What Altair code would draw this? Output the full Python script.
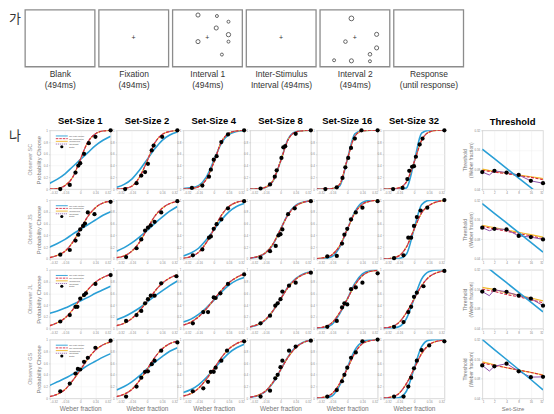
import altair as alt
import pandas as pd

FONT = 'Liberation Sans'
KFONT = 'Noto Sans CJK KR'

# ---------------- panel 가 : trial sequence ----------------
STAGE_LABELS = [["Blank", "(494ms)"], ["Fixation", "(494ms)"], ["Interval 1", "(494ms)"],
                ["Inter-Stimulus", "Interval (494ms)"], ["Interval 2", "(494ms)"],
                ["Response", "(until response)"]]
# stimulus rings inside a 70 x 57 display frame (x right, y down)
INT1_X = [25.7, 44.7, 56.3, 44.0, 56.3, 56.3, 25.7, 49.7]
INT1_Y = [5.3, 6.3, 12.0, 18.3, 25.0, 32.0, 32.0, 45.0]
INT1_S = [17, 9, 9, 17, 19, 9, 17, 9]
INT2_X = [31.7, 25.7, 57.0, 57.0, 50.3, 50.3, 31.7, 14.3]
INT2_Y = [8.7, 32.0, 24.7, 38.3, 44.7, 51.7, 51.3, 50.7]
INT2_S = [23, 13, 17, 17, 13, 9, 17, 9]
FIX_PANELS = [1, 2, 3, 4]
FIX_X = 35
FIX_Y = 28

# ---------------- panel 나 : psychometric functions ----------------
OBSERVERS = ['SC', 'JS', 'JL', 'GS']
SET_SIZES = [1, 2, 4, 8, 16, 32]
XGRID = [-0.32, -0.24, -0.16, -0.08, 0.0, 0.08, 0.16, 0.24, 0.32]
X_TICKS = [-0.32, -0.16, 0, 0.16, 0.32]
Y_TICKS = [0, 0.2, 0.4, 0.6, 0.8, 1]
LEGEND = ['No Late Noise', 'No Glimpsing', 'Combined', 'Spotlight', 'Data']

# fitted curves (No Glimpsing / Combined / Spotlight overlap) at XGRID
FIT_SC = [[0.0, 0.01, 0.06, 0.2, 0.5, 0.8, 0.94, 0.99, 1.0],
          [0.0, 0.01, 0.05, 0.2, 0.47, 0.78, 0.93, 0.98, 1.0],
          [0.0, 0.01, 0.04, 0.16, 0.45, 0.8, 0.95, 0.99, 1.0],
          [0.0, 0.005, 0.03, 0.14, 0.47, 0.84, 0.97, 0.995, 1.0],
          [0.0, 0.0, 0.01, 0.08, 0.5, 0.9, 0.99, 1.0, 1.0],
          [0.0, 0.003, 0.02, 0.12, 0.45, 0.83, 0.97, 1.0, 1.0]]
FIT_JS = [[0.02, 0.06, 0.13, 0.28, 0.5, 0.72, 0.87, 0.95, 0.98],
          [0.02, 0.05, 0.13, 0.28, 0.5, 0.72, 0.86, 0.94, 0.98],
          [0.01, 0.04, 0.11, 0.27, 0.5, 0.74, 0.89, 0.96, 0.985],
          [0.01, 0.04, 0.1, 0.25, 0.5, 0.75, 0.9, 0.96, 0.99],
          [0.005, 0.02, 0.07, 0.22, 0.5, 0.78, 0.93, 0.98, 1.0],
          [0.0, 0.01, 0.05, 0.2, 0.5, 0.78, 0.91, 0.97, 0.99]]
FIT_JL = [[0.05, 0.1, 0.18, 0.32, 0.5, 0.66, 0.79, 0.87, 0.92],
          [0.05, 0.09, 0.17, 0.3, 0.46, 0.63, 0.77, 0.86, 0.92],
          [0.06, 0.11, 0.2, 0.33, 0.49, 0.65, 0.78, 0.87, 0.93],
          [0.03, 0.07, 0.15, 0.3, 0.5, 0.7, 0.84, 0.92, 0.96],
          [0.01, 0.03, 0.1, 0.27, 0.5, 0.74, 0.9, 0.97, 0.99],
          [0.01, 0.03, 0.1, 0.27, 0.5, 0.73, 0.88, 0.95, 0.98]]
FIT_GS = [[0.03, 0.07, 0.15, 0.3, 0.48, 0.67, 0.82, 0.91, 0.96],
          [0.03, 0.07, 0.15, 0.3, 0.49, 0.69, 0.84, 0.93, 0.97],
          [0.04, 0.08, 0.17, 0.32, 0.5, 0.69, 0.84, 0.93, 0.98],
          [0.02, 0.05, 0.12, 0.27, 0.48, 0.7, 0.86, 0.95, 0.99],
          [0.005, 0.02, 0.08, 0.25, 0.5, 0.77, 0.93, 0.98, 1.0],
          [0.005, 0.02, 0.08, 0.25, 0.5, 0.76, 0.91, 0.97, 0.99]]
# No Late Noise model at XGRID
NLN_SC = [[0.1, 0.17, 0.26, 0.38, 0.5, 0.62, 0.74, 0.83, 0.9],
          [0.03, 0.08, 0.17, 0.32, 0.5, 0.68, 0.83, 0.92, 0.97],
          [0.01, 0.02, 0.06, 0.2, 0.48, 0.78, 0.93, 0.98, 0.995],
          [0.0, 0.003, 0.025, 0.13, 0.47, 0.85, 0.975, 0.997, 1.0],
          [0.0, 0.0, 0.005, 0.05, 0.5, 0.94, 0.995, 1.0, 1.0],
          [0.0, 0.0, 0.0, 0.02, 0.45, 0.95, 1.0, 1.0, 1.0]]
NLN_JS = [[0.2, 0.26, 0.33, 0.42, 0.5, 0.58, 0.66, 0.74, 0.8],
          [0.13, 0.19, 0.27, 0.37, 0.48, 0.6, 0.71, 0.81, 0.89],
          [0.05, 0.1, 0.18, 0.32, 0.49, 0.66, 0.8, 0.89, 0.94],
          [0.01, 0.035, 0.095, 0.24, 0.5, 0.76, 0.91, 0.965, 0.99],
          [0.0, 0.005, 0.04, 0.2, 0.5, 0.8, 0.96, 0.995, 1.0],
          [0.0, 0.0, 0.005, 0.08, 0.5, 0.92, 0.995, 1.0, 1.0]]
NLN_JL = [[0.26, 0.3, 0.35, 0.41, 0.47, 0.53, 0.6, 0.66, 0.72],
          [0.15, 0.2, 0.27, 0.35, 0.45, 0.55, 0.64, 0.73, 0.81],
          [0.11, 0.16, 0.24, 0.35, 0.48, 0.62, 0.74, 0.82, 0.87],
          [0.025, 0.065, 0.145, 0.3, 0.5, 0.71, 0.85, 0.93, 0.965],
          [0.003, 0.015, 0.07, 0.25, 0.5, 0.77, 0.93, 0.985, 0.998],
          [0.0, 0.003, 0.03, 0.17, 0.5, 0.84, 0.97, 0.997, 1.0]]
NLN_GS = [[0.22, 0.28, 0.34, 0.41, 0.48, 0.56, 0.63, 0.7, 0.76],
          [0.14, 0.2, 0.28, 0.38, 0.5, 0.61, 0.71, 0.8, 0.86],
          [0.1, 0.15, 0.23, 0.35, 0.49, 0.64, 0.77, 0.86, 0.92],
          [0.015, 0.045, 0.115, 0.26, 0.48, 0.71, 0.87, 0.955, 0.99],
          [0.0, 0.005, 0.04, 0.22, 0.52, 0.82, 0.96, 0.995, 1.0],
          [0.0, 0.0, 0.01, 0.12, 0.5, 0.88, 0.99, 1.0, 1.0]]
# observed proportions
DOTX_SC = [[-0.21, -0.11, -0.05, -0.02, 0.0, 0.04, 0.09, 0.16, 0.32],
           [-0.23, -0.11, -0.06, -0.02, 0.01, 0.05, 0.07, 0.16, 0.32],
           [-0.23, -0.12, -0.05, -0.03, 0.0, 0.03, 0.08, 0.15, 0.32],
           [-0.21, -0.11, -0.06, -0.04, 0.01, 0.03, 0.05, 0.16, 0.32],
           [-0.23, -0.11, -0.05, -0.02, 0.01, 0.04, 0.08, 0.15, 0.32],
           [-0.22, -0.12, -0.07, -0.05, -0.02, 0.0, 0.02, 0.06, 0.09, 0.32]]
DOTP_SC = [[0.0, 0.07, 0.28, 0.40, 0.44, 0.60, 0.78, 0.89, 1.0],
           [0.0, 0.1, 0.23, 0.29, 0.43, 0.66, 0.74, 0.89, 1.0],
           [0.02, 0.06, 0.21, 0.33, 0.5, 0.56, 0.8, 0.93, 1.0],
           [0.01, 0.08, 0.21, 0.32, 0.53, 0.71, 0.73, 0.94, 1.0],
           [0.0, 0.03, 0.19, 0.37, 0.53, 0.70, 0.86, 1.0, 1.0],
           [0.0, 0.02, 0.17, 0.31, 0.38, 0.39, 0.55, 0.76, 0.86, 1.0]]
DOTX_JS = [[-0.21, -0.11, -0.05, -0.02, 0.0, 0.03, 0.05, 0.08, 0.15, 0.32],
           [-0.22, -0.11, -0.06, -0.02, 0.01, 0.04, 0.08, 0.15, 0.32],
           [-0.22, -0.12, -0.05, -0.03, 0.0, 0.03, 0.08, 0.15, 0.32],
           [-0.21, -0.11, -0.05, -0.02, 0.0, 0.02, 0.08, 0.15, 0.32],
           [-0.21, -0.11, -0.055, -0.03, 0.0, 0.04, 0.09, 0.16, 0.32],
           [-0.21, -0.11, -0.06, -0.03, 0.0, 0.03, 0.07, 0.14, 0.32]]
DOTP_JS = [[0.07, 0.15, 0.31, 0.41, 0.5, 0.56, 0.6, 0.79, 0.76, 0.97],
           [0.03, 0.18, 0.33, 0.48, 0.53, 0.57, 0.63, 0.79, 0.98],
           [0.06, 0.16, 0.36, 0.38, 0.51, 0.59, 0.67, 0.86, 0.98],
           [0.02, 0.13, 0.22, 0.4, 0.42, 0.5, 0.76, 0.86, 0.98],
           [0.04, 0.05, 0.26, 0.41, 0.51, 0.67, 0.79, 0.87, 0.98],
           [0.01, 0.06, 0.36, 0.36, 0.56, 0.71, 0.82, 0.87, 1.0]]
DOTX_JL = [[-0.21, -0.11, -0.05, -0.03, 0.0, 0.04, 0.06, 0.16, 0.32],
           [-0.22, -0.11, -0.06, -0.02, 0.01, 0.04, 0.08, 0.15, 0.31],
           [-0.22, -0.11, -0.06, 0.0, 0.02, 0.07, 0.15, 0.32],
           [-0.21, -0.11, -0.055, -0.03, 0.0, 0.02, 0.09, 0.16, 0.32],
           [-0.21, -0.11, -0.055, -0.03, 0.0, 0.04, 0.09, 0.16, 0.32],
           [-0.21, -0.11, -0.06, -0.03, 0.0, 0.03, 0.1, 0.32]]
DOTP_JL = [[0.12, 0.23, 0.37, 0.37, 0.51, 0.57, 0.6, 0.76, 0.91],
           [0.13, 0.23, 0.3, 0.43, 0.5, 0.56, 0.56, 0.77, 0.89],
           [0.09, 0.28, 0.28, 0.53, 0.52, 0.6, 0.76, 0.92],
           [0.09, 0.22, 0.39, 0.43, 0.5, 0.63, 0.73, 0.78, 0.95],
           [0.03, 0.13, 0.36, 0.43, 0.41, 0.67, 0.7, 0.78, 0.94],
           [0.03, 0.11, 0.28, 0.37, 0.54, 0.61, 0.72, 0.98]]
DOTX_GS = [[-0.21, -0.11, -0.05, -0.025, 0.0, 0.04, 0.08, 0.16, 0.32],
           [-0.22, -0.11, -0.06, -0.02, 0.01, 0.05, 0.08, 0.15, 0.32],
           [-0.22, -0.11, -0.06, -0.03, 0.0, 0.02, 0.08, 0.14, 0.32],
           [-0.21, -0.11, -0.055, -0.03, 0.0, 0.02, 0.09, 0.16, 0.32],
           [-0.21, -0.11, -0.055, -0.03, 0.0, 0.04, 0.09, 0.16, 0.32],
           [-0.21, -0.11, -0.06, -0.03, 0.0, 0.03, 0.08, 0.16, 0.32]]
DOTP_GS = [[0.12, 0.25, 0.42, 0.5, 0.49, 0.62, 0.69, 0.86, 0.98],
           [0.03, 0.2, 0.35, 0.45, 0.46, 0.58, 0.64, 0.81, 0.95],
           [0.12, 0.17, 0.28, 0.45, 0.45, 0.52, 0.64, 0.81, 0.97],
           [0.03, 0.13, 0.34, 0.4, 0.53, 0.64, 0.81, 0.88, 0.98],
           [0.03, 0.14, 0.29, 0.4, 0.52, 0.69, 0.78, 0.97, 1.0],
           [0.03, 0.03, 0.2, 0.35, 0.51, 0.64, 0.82, 0.9, 0.97]]

FIT = [FIT_SC, FIT_JS, FIT_JL, FIT_GS]
NLN = [NLN_SC, NLN_JS, NLN_JL, NLN_GS]
DOTX = [DOTX_SC, DOTX_JS, DOTX_JL, DOTX_GS]
DOTP = [DOTP_SC, DOTP_JS, DOTP_JL, DOTP_GS]

# ---------------- thresholds (Weber fraction) ----------------
THR_TICKS = [0.04, 0.08, 0.16, 0.32]
SPOT_X = [1, 1.5, 2, 4, 8, 16, 32]
THR_NLN = [[0.1645, 0.117, 0.0831, 0.0591, 0.042, 0.0299],
           [0.2825, 0.2004, 0.1422, 0.1009, 0.0716, 0.0508],
           [0.403, 0.2855, 0.2025, 0.1437, 0.102, 0.0724],
           [0.32, 0.2247, 0.1578, 0.1108, 0.0778, 0.0541]]
THR_NG = [[0.0778, 0.0731, 0.0687, 0.0645, 0.0606, 0.0558],
          [0.1255, 0.1155, 0.1063, 0.0979, 0.09, 0.0811],
          [0.1611, 0.1482, 0.1336, 0.1229, 0.1108, 0.0999],
          [0.1393, 0.1282, 0.118, 0.1085, 0.0999, 0.09]]
THR_COMB = [[0.0811, 0.0747, 0.0701, 0.0659, 0.0619, 0.0582],
            [0.1309, 0.1204, 0.1108, 0.102, 0.0939, 0.0863],
            [0.1715, 0.1578, 0.1422, 0.1309, 0.118, 0.1063],
            [0.1452, 0.1309, 0.118, 0.1085, 0.0999, 0.0919]]
THR_SPOT = [[0.0731, 0.0659, 0.0763, 0.0716, 0.0659, 0.0535, 0.0492],
            [0.1204, 0.108, 0.1155, 0.1131, 0.09, 0.0863, 0.0795],
            [0.1482, 0.128, 0.1578, 0.1467, 0.1282, 0.1155, 0.09],
            [0.1282, 0.105, 0.1242, 0.1364, 0.1041, 0.0846, 0.0854]]
THR_DATA = [[0.0731, 0.0763, 0.0716, 0.0659, 0.0535, 0.0492],
            [0.1204, 0.1155, 0.1131, 0.09, 0.0863, 0.0795],
            [0.1482, 0.1578, 0.1467, 0.1282, 0.1155, 0.09],
            [0.1282, 0.1242, 0.1364, 0.1041, 0.0846, 0.0854]]

BLUE_C = '#2a9fd6'
RED_C = '#d7263d'
YEL_C = '#f2b829'
PUR_C = '#8b4fa8'

ONE = pd.DataFrame({'k': [0]})
NOFRAME = alt.ViewBackground(stroke='transparent')

# ---------- top row ----------
stim = pd.DataFrame({
    'panel': [2] * len(INT1_X) + [4] * len(INT2_X),
    'x': INT1_X + INT2_X, 'y': INT1_Y + INT2_Y, 's': INT1_S + INT2_S})
fix = pd.DataFrame({'panel': FIX_PANELS, 'x': [FIX_X] * len(FIX_PANELS),
                    'y': [FIX_Y] * len(FIX_PANELS)})


def stage_panel(i):
    X = alt.X('x:Q', scale=alt.Scale(domain=[0, 70], nice=False, zero=False),
              axis=alt.Axis(labels=False, ticks=False, domain=False, grid=False,
                            title=STAGE_LABELS[i], titleFont=FONT, titleFontSize=8.5,
                            titleFontWeight='normal', titleColor='#333333',
                            titlePadding=3, titleLineHeight=11))
    Y = alt.Y('y:Q', scale=alt.Scale(domain=[0, 57], reverse=True, nice=False, zero=False),
              axis=None)
    rings = alt.Chart(stim).transform_filter(alt.datum.panel == i).mark_point(
        shape='circle', filled=False, color='#555555', strokeWidth=0.9, opacity=1
    ).encode(x=X, y=Y, size=alt.Size('s:Q', scale=None, legend=None))
    cross = alt.Chart(fix).transform_filter(alt.datum.panel == i).mark_text(
        text='+', fontSize=7, color='#333333', baseline='middle', font=FONT
    ).encode(x=X, y=Y)
    return alt.layer(rings, cross).properties(
        width=70, height=57, view=alt.ViewBackground(stroke='#8c8c8c', strokeWidth=1.3))


ga = alt.Chart(ONE).mark_text(text='가', font=KFONT, fontSize=13, align='left',
                              baseline='middle', color='#333333').encode(
    x=alt.value(0), y=alt.value(9)).properties(width=12, height=57, view=NOFRAME)

top_row = alt.hconcat(ga, *[stage_panel(i) for i in range(6)], spacing=4, bounds='flush')


# ---------- bottom grid ----------
def axis_kw(**extra):
    kw = dict(labelFont=FONT, labelFontSize=3, labelColor='#888888', labelPadding=1,
              tickSize=1.5, tickColor='#bbbbbb', tickWidth=0.5, domain=False, grid=True,
              gridColor='#eeeeee', gridWidth=0.5, titleFont=FONT, titleFontWeight='normal',
              titleColor='#777777')
    kw.update(extra)
    return kw


def legend_layers():
    ys = [5.7, 8.4, 11.1, 13.8, 16.5]
    styles = [(BLUE_C, None), (RED_C, [2.5, 1]), (YEL_C, None), (PUR_C, [1, 1]), ('black', 'dot')]
    out = []
    for label, yy, (c, d) in zip(LEGEND, ys, styles):
        if d == 'dot':
            out.append(alt.Chart(ONE).mark_circle(color=c, size=10, opacity=1).encode(
                x=alt.value(12), y=alt.value(yy)))
        elif d is None:
            out.append(alt.Chart(ONE).mark_rule(color=c, strokeWidth=0.9).encode(
                x=alt.value(6), x2=alt.value(18), y=alt.value(yy)))
        else:
            out.append(alt.Chart(ONE).mark_rule(color=c, strokeWidth=0.9, strokeDash=d).encode(
                x=alt.value(6), x2=alt.value(18), y=alt.value(yy)))
        out.append(alt.Chart(ONE).mark_text(text=label, align='left', baseline='middle',
                                            fontSize=2.4, color='#555555', font=FONT).encode(
            x=alt.value(19.5), y=alt.value(yy)))
    return out


def psych_panel(o, k):
    X = alt.X('x:Q', scale=alt.Scale(domain=[-0.32, 0.32], nice=False, zero=False),
              axis=alt.Axis(values=X_TICKS, format='.2~f',
                            **axis_kw(title='Weber fraction' if o == 3 else None,
                                      titleFontSize=6.5, titlePadding=2)))
    Y = alt.Y('p:Q', scale=alt.Scale(domain=[0, 1], nice=False, zero=False),
              axis=alt.Axis(values=Y_TICKS, format='.1~f',
                            **axis_kw(title='Probability Choose' if k == 0 else None,
                                      titleFontSize=5.8, titlePadding=2)))
    fit = pd.DataFrame({'x': XGRID, 'p': FIT[o][k]})
    nln = pd.DataFrame({'x': XGRID, 'p': NLN[o][k]})
    dots = pd.DataFrame({'x': DOTX[o][k], 'p': DOTP[o][k]})
    layers = [
        alt.Chart(nln).mark_line(color=BLUE_C, strokeWidth=1.6, interpolate='monotone',
                                 clip=True).encode(x=X, y=Y),
        alt.Chart(fit).mark_line(color=YEL_C, strokeWidth=1.2, interpolate='monotone',
                                 clip=True).encode(x=X, y=Y),
        alt.Chart(fit).mark_line(color=PUR_C, strokeWidth=1.1, strokeDash=[1.5, 1.5],
                                 interpolate='monotone', clip=True).encode(x=X, y=Y),
        alt.Chart(fit).mark_line(color=RED_C, strokeWidth=1.2, strokeDash=[3, 1.5],
                                 interpolate='monotone', clip=True).encode(x=X, y=Y),
        alt.Chart(dots).mark_circle(color='black', size=18, opacity=1).encode(x=X, y=Y),
    ]
    if k == 0:
        layers += legend_layers()
    props = dict(width=61, height=59,
                 view=alt.ViewBackground(stroke='#c8c8c8', strokeWidth=0.8))
    if o == 0:
        props['title'] = alt.TitleParams(text=f'Set-Size {SET_SIZES[k]}', font=FONT,
                                         fontSize=9.5, fontWeight='bold', color='black',
                                         offset=3, frame='group', anchor='middle')
    return alt.layer(*layers).properties(**props)


def thr_panel(o):
    X = alt.X('n:Q', scale=alt.Scale(type='log', domain=[1, 32], nice=False),
              axis=alt.Axis(values=SET_SIZES, format='d',
                            **axis_kw(title='Set-Size' if o == 3 else None,
                                      titleFontSize=6, titlePadding=2)))
    Y = alt.Y('t:Q', scale=alt.Scale(type='log', domain=[0.04, 0.32], nice=False),
              axis=alt.Axis(values=THR_TICKS, format='.2f',
                            **axis_kw(title=['Threshold', '(Weber fraction)'],
                                      titleFontSize=5, titleLineHeight=6.5, titlePadding=0)))
    nln = pd.DataFrame({'n': SET_SIZES, 't': THR_NLN[o]})
    ng = pd.DataFrame({'n': SET_SIZES, 't': THR_NG[o]})
    comb = pd.DataFrame({'n': SET_SIZES, 't': THR_COMB[o]})
    spot = pd.DataFrame({'n': SPOT_X, 't': THR_SPOT[o]})
    data = pd.DataFrame({'n': SET_SIZES, 't': THR_DATA[o]})
    layers = [
        alt.Chart(comb).mark_line(color=YEL_C, strokeWidth=1.2, interpolate='monotone',
                                  clip=True).encode(x=X, y=Y),
        alt.Chart(ng).mark_line(color=RED_C, strokeWidth=1.1, strokeDash=[3, 1.5],
                                interpolate='monotone', clip=True).encode(x=X, y=Y),
        alt.Chart(spot).mark_line(color=PUR_C, strokeWidth=1.0, clip=True).encode(x=X, y=Y),
        alt.Chart(nln).mark_line(color=BLUE_C, strokeWidth=1.6, clip=True).encode(x=X, y=Y),
        alt.Chart(data).mark_circle(color='black', size=18, opacity=1).encode(x=X, y=Y),
    ]
    props = dict(width=61, height=59,
                 view=alt.ViewBackground(stroke='#c8c8c8', strokeWidth=0.8))
    if o == 0:
        props['title'] = alt.TitleParams(text='Threshold', font=FONT, fontSize=9.5,
                                         fontWeight='bold', color='black', offset=3,
                                         frame='group', anchor='middle')
    return alt.layer(*layers).properties(**props)


def label_col(o):
    layers = [alt.Chart(ONE).mark_text(text=f'Observer {OBSERVERS[o]}', angle=270,
                                       fontSize=5.5, color='#9a9a9a', font=FONT,
                                       align='center', baseline='middle').encode(
        x=alt.value(21), y=alt.value(29.5))]
    if o == 0:
        layers.append(alt.Chart(ONE).mark_text(text='나', font=KFONT, fontSize=13,
                                               align='left', baseline='middle',
                                               color='#333333').encode(
            x=alt.value(0), y=alt.value(6)))
    return alt.layer(*layers).properties(width=35, height=59, view=NOFRAME)


def spacer():
    return alt.Chart(ONE).mark_point(opacity=0).encode(
        x=alt.value(0), y=alt.value(0)).properties(width=26, height=59, view=NOFRAME)


panels = []
for o in range(4):
    panels.append(label_col(o))
    for k in range(6):
        panels.append(psych_panel(o, k))
    panels.append(spacer())
    panels.append(thr_panel(o))

bottom = alt.concat(*panels, columns=9, spacing={'row': 11, 'column': 6}, bounds='flush')

chart = alt.vconcat(top_row, bottom, spacing=24).properties(padding=0)

chart.save("out.html", embed_options={"renderer": "svg", "actions": False})
